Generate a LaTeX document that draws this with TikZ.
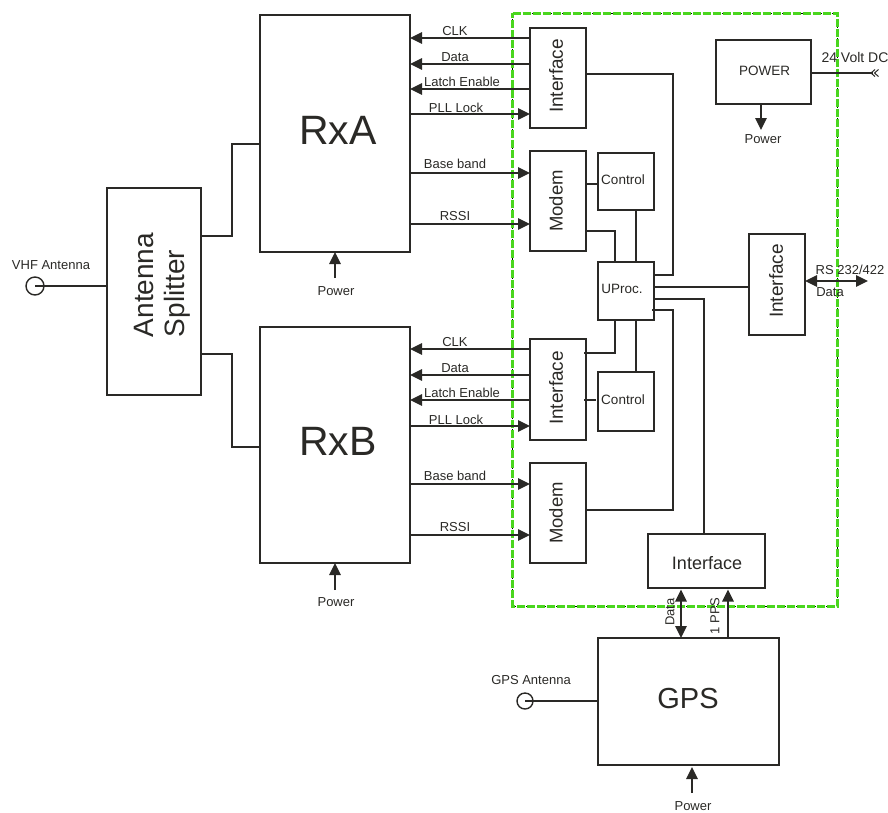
\documentclass[tikz,border=0pt]{standalone}
\usepackage{fontspec}
\setmainfont{Liberation Sans}
\usetikzlibrary{arrows.meta,calc}
\definecolor{ink}{HTML}{2A2926}
\definecolor{grn}{HTML}{4AD61E}
\newcommand{\fs}[1]{\fontsize{#1}{#1}\selectfont}
\tikzset{
  every node/.style={text=ink},
  wire/.style={draw=ink,line width=1.4pt},
  sig/.style={wire,-{Triangle[length=12pt,width=11.5pt]}},
  bisig/.style={wire,{Triangle[length=12pt,width=11.5pt]}-{Triangle[length=12pt,width=11.5pt]}},
  box/.style={draw=ink,line width=1.4pt,fill=white,inner sep=0pt,outer sep=0pt,rectangle,align=center},
  lab/.style={inner sep=0pt,font=\fs{13}},
  small/.style={inner sep=0pt,font=\fs{13.5}},
  big/.style={inner sep=0pt,font=\fs{41}},
  ant/.style={circle,draw=ink,line width=1.4pt,inner sep=0pt,outer sep=0pt},
  vtext/.style={rotate=90,inner sep=0pt},
}
\begin{document}
\begin{tikzpicture}[x=1pt,y=-1pt]
\useasboundingbox (0,0) rectangle (888,812);
% dashed enclosure
\coordinate (g1) at (512.5,13);
\coordinate (g2) at (837,13);
\coordinate (g3) at (837,606);
\coordinate (g4) at (512.5,606);
\draw[black,line width=1pt,dash pattern=on 1.2pt off 2.6pt] (g1) -- (g2) -- (g3) -- (g4) -- cycle;
\draw[grn,line width=3pt,dash pattern=on 8pt off 2pt] (g1) -- (g2) -- (g3) -- (g4) -- cycle;

% boxes
\node[box,minimum width=150pt,minimum height=237pt] (rxa) at (335,133.5) {};
\node[big] (rxat) at (338,130) {RxA};
\node[box,minimum width=150pt,minimum height=236pt] (rxb) at (335,445) {};
\node[big] (rxbt) at (338,441) {RxB};
\node[box,minimum width=94pt,minimum height=207pt] (split) at (154,291.5) {};
\node[rotate=90,font=\fs{28},align=left,inner sep=0pt] (splitlab) at (162,285) {Antenna\\[3pt]Splitter};
\node[box,minimum width=56pt,minimum height=100pt] (ifa) at (558,78) {};
\node[vtext,font=\fs{19}] (ifat) at (556,76) {Interface};
\node[box,minimum width=56pt,minimum height=100pt] (moda) at (558,201) {};
\node[vtext,font=\fs{18.5}] (modat) at (556,201) {Modem};
\node[box,minimum width=56pt,minimum height=57pt] (cta) at (626,181.5) {};
\node[small] (ctat) at (623,179.5) {Control};
\node[box,minimum width=56pt,minimum height=58pt] (up) at (626,291) {};
\node[small] (upt) at (622,289) {UProc.};
\node[box,minimum width=56pt,minimum height=101pt] (ifb) at (558,389.5) {};
\node[vtext,font=\fs{19}] (ifbt) at (556,388) {Interface};
\node[box,minimum width=56pt,minimum height=59pt] (ctb) at (626,401.5) {};
\node[small] (ctbt) at (623,400) {Control};
\node[box,minimum width=56pt,minimum height=100pt] (modb) at (558,513) {};
\node[vtext,font=\fs{18.5}] (modbt) at (556,513) {Modem};
\node[box,minimum width=95pt,minimum height=64pt] (pwr) at (763.5,72) {};
\node[small] (pwrt) at (764.5,71) {POWER};
\node[box,minimum width=56pt,minimum height=101pt] (ifr) at (777,284.5) {};
\node[vtext,font=\fs{19}] (ifrt) at (776,281) {Interface};
\node[box,minimum width=117pt,minimum height=54pt,font=\fs{18}] (ifg) at (706.5,561) {};
\node[inner sep=0pt,font=\fs{18}] (ifgt) at (707,563) {Interface};
\node[box,minimum width=181pt,minimum height=127pt] (gps) at (688.5,701.5) {};
\node[inner sep=0pt,font=\fs{29}] (gpst) at (688,699) {GPS};
\node[ant,minimum size=18pt] (vhf) at (35,286) {};
\node[ant,minimum size=16pt] (gant) at (525,701) {};

% labels
\node[lab] (vhfl) at (51,265) {VHF Antenna};
\node[lab] (gantl) at (531,680) {GPS Antenna};
\node[lab] at (455,31) {CLK};
\node[lab] at (455,57) {Data};
\node[lab] at (462,82) {Latch Enable};
\node[lab] at (456,108) {PLL Lock};
\node[lab] at (455,164) {Base band};
\node[lab] at (455,216) {RSSI};
\node[lab] at (455,342) {CLK};
\node[lab] at (455,368) {Data};
\node[lab] at (462,393) {Latch Enable};
\node[lab] at (456,420) {PLL Lock};
\node[lab] at (455,476) {Base band};
\node[lab] at (455,527) {RSSI};
\node[lab] (pa) at (336,291) {Power};
\node[lab] (pb) at (336,602) {Power};
\node[lab] (pg) at (693,806) {Power};
\node[lab] (pp) at (763,139) {Power};
\node[inner sep=0pt,font=\fs{14}] at (855,57) {24 Volt DC};
\node[lab] at (850,270) {RS 232/422};
\node[lab] at (830,292) {Data};
\node[lab,rotate=90] at (670,612) {Data};
\node[lab,rotate=90] at (715,616) {1 PPS};

% antenna feeds
\draw[wire] (vhf.center) -- (vhf.center -| split.west);
\draw[wire] (gant.center) -- (gant.center -| gps.west);
\draw[wire] (201,236) -| (232,144) -- (260,144);
\draw[wire] (201,354) -| (232,447) -- (260,447);

% RxA signals
\draw[sig] (ifa.west |- 0,38) -- (rxa.east |- 0,38);
\draw[sig] (ifa.west |- 0,64) -- (rxa.east |- 0,64);
\draw[sig] (ifa.west |- 0,89) -- (rxa.east |- 0,89);
\draw[sig] (rxa.east |- 0,114) -- (ifa.west |- 0,114);
\draw[sig] (rxa.east |- 0,173) -- (moda.west |- 0,173);
\draw[sig] (rxa.east |- 0,224) -- (moda.west |- 0,224);
% RxB signals
\draw[sig] (ifb.west |- 0,349) -- (rxb.east |- 0,349);
\draw[sig] (ifb.west |- 0,375) -- (rxb.east |- 0,375);
\draw[sig] (ifb.west |- 0,400) -- (rxb.east |- 0,400);
\draw[sig] (rxb.east |- 0,426) -- (ifb.west |- 0,426);
\draw[sig] (rxb.east |- 0,484) -- (modb.west |- 0,484);
\draw[sig] (rxb.east |- 0,535) -- (modb.west |- 0,535);

% power arrows
\coordinate (pas) at (335,278);
\coordinate (pbs) at (335,590);
\coordinate (pgs) at (692,793);
\coordinate (pps) at (761,130);
\coordinate (dc) at (873,73);
\draw[sig] (pas) -- (pas |- rxa.south);
\draw[sig] (pbs) -- (pbs |- rxb.south);
\draw[sig] (pgs) -- ($(pgs |- gps.south)+(0,2)$);
\draw[sig] (pwr.south -| pps) -- (pps);
\draw[wire] (pwr.east |- dc) -- (dc);
\draw[draw=ink,line width=1pt] (875,69.5) -- (871,73) -- (875,76.5) (878.5,69.5) -- (874.5,73) -- (878.5,76.5);

% internal wiring
\draw[wire] (ifa.east |- 0,74) -| (673,275) -- (up.east |- 0,275);
\draw[wire] (moda.east |- 0,184) -- (cta.west |- 0,184);
\draw[wire] (moda.east |- 0,231) -| (615,262);
\draw[wire] (636,210) -- (636,262);
\draw[wire] (up.east |- 0,287) -- (ifr.west |- 0,287);
\draw[wire] (up.east |- 0,299) -| (704,534);
\draw[wire] (652,310) -| (673,510) -- (modb.east |- 0,510);
\draw[wire] (615,320) |- (584,353);
\draw[wire] (636,320) -- (636,372);
\draw[wire] (584,400) -- (596,400);
\draw[bisig] (805,281) -- (868,281);
\draw[bisig] (681,589.5) -- (681,638);
\draw[sig] (728,638) -- (728,589.5);
\end{tikzpicture}
\end{document}
